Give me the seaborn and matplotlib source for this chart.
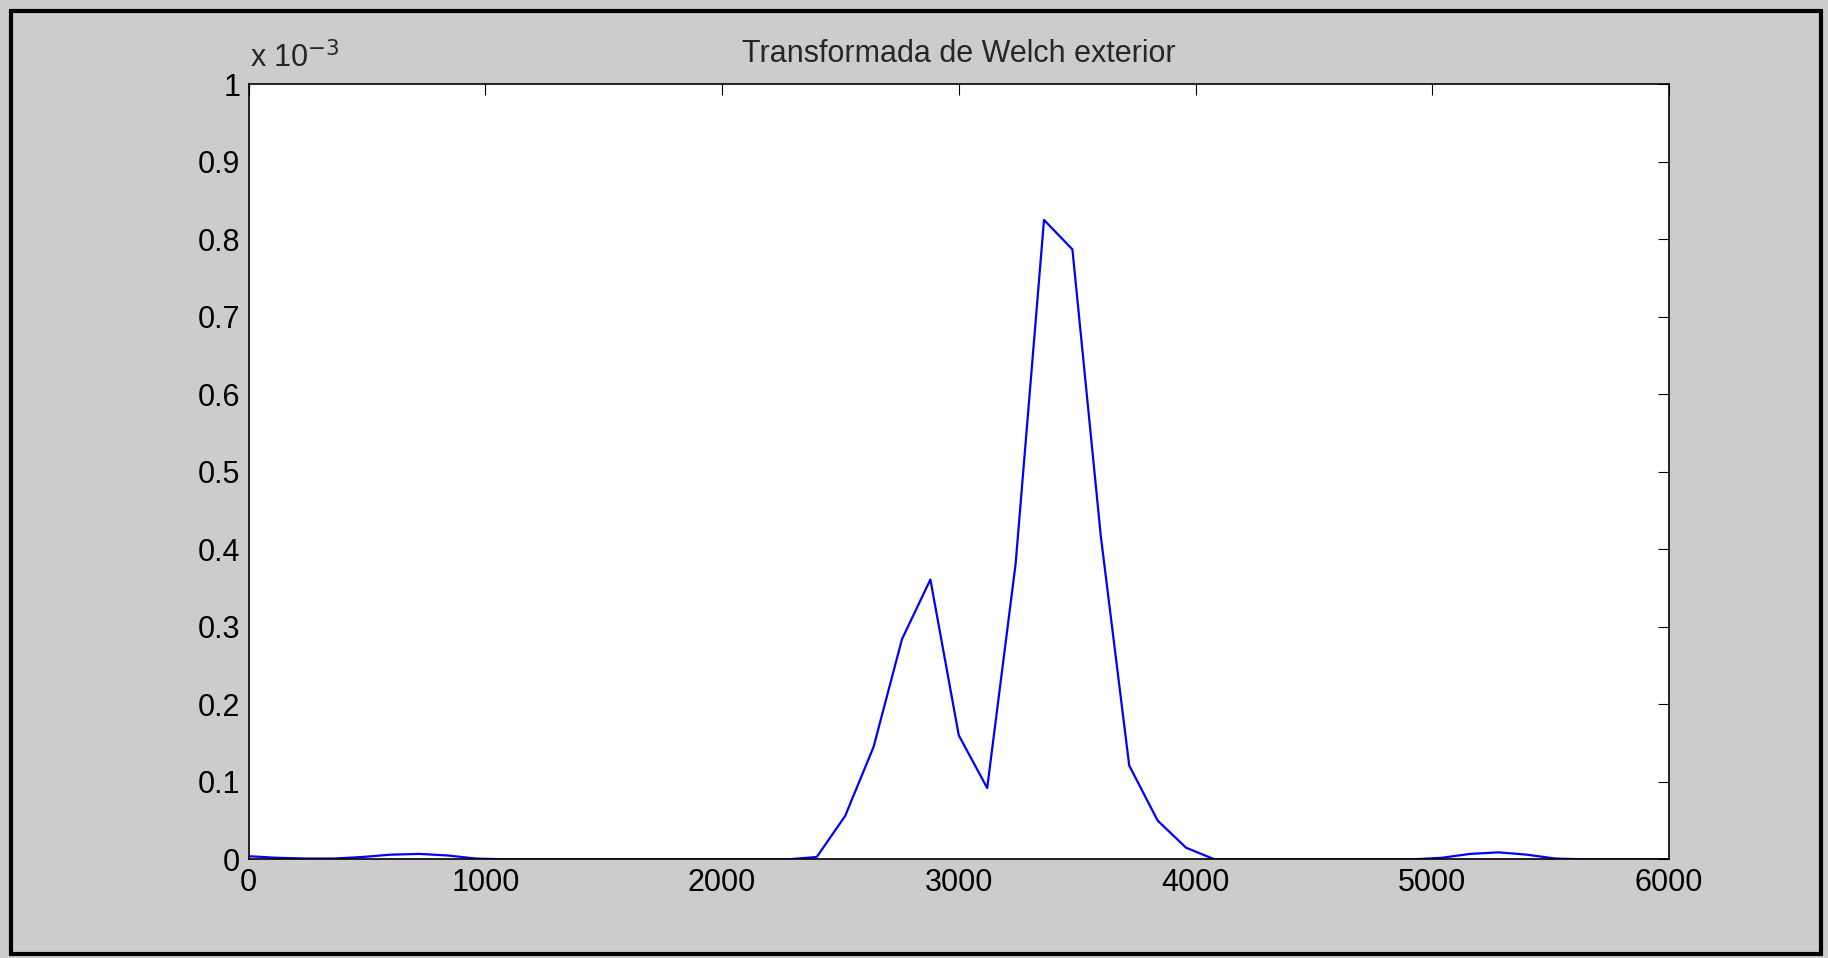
import numpy as np
import pandas as pd
import matplotlib
matplotlib.use("Agg")
import matplotlib.pyplot as plt
import seaborn as sns

# Frecuencias (Hz) y densidad espectral (x 1e-3)
freq = np.arange(0, 6001, 120)
psd = [0.004, 0.002, 0.001, 0.001, 0.003, 0.006, 0.007, 0.005, 0.001, 0.0,
       0.0, 0.0, 0.0, 0.0, 0.0, 0.0, 0.0, 0.0, 0.0, 0.0,
       0.003, 0.056, 0.145, 0.284, 0.361, 0.160, 0.092, 0.381, 0.825, 0.787,
       0.417, 0.121, 0.050, 0.015, 0.0, 0.0, 0.0, 0.0, 0.0, 0.0,
       0.0, 0.0, 0.002, 0.007, 0.009, 0.006, 0.001, 0.0, 0.0, 0.0, 0.0]

df = pd.DataFrame({"f": freq, "p": psd})

sns.set_style("white")
plt.rcParams['font.family'] = ['Liberation Sans', 'DejaVu Sans']

fig = plt.figure(figsize=(18.28, 9.58), dpi=100, facecolor="#cccccc")
ax = fig.add_axes([0.136, 0.103, 0.777, 0.809])
sns.lineplot(data=df, x="f", y="p", color="#0000ff", linewidth=1.6, ax=ax)

ax.set_xlim(0, 6000)
ax.set_ylim(0, 1)
ax.set_xticks(range(0, 6001, 1000))
ax.set_yticks(np.round(np.arange(0, 1.01, 0.1), 1))
ax.set_yticklabels(["0"] + ["%.1f" % v for v in np.arange(0.1, 0.95, 0.1)] + ["1"])
ax.tick_params(direction="in", length=8, top=True, right=True, labelsize=22, colors="black", pad=6)
for s in ax.spines.values():
    s.set_color("black")
    s.set_linewidth(1.2)
ax.set_xlabel("")
ax.set_ylabel("")
ax.set_title("Transformada de Welch exterior", fontsize=22, pad=16)
fig.text(0.137, 0.93, r"x 10$^{-3}$", fontsize=22)

# marco negro
fig.patches.append(plt.Rectangle((0.006, 0.004), 0.99, 0.985, transform=fig.transFigure,
                                 fill=False, edgecolor="black", linewidth=3))
fig.savefig("out.png", dpi=100, facecolor=fig.get_facecolor())
